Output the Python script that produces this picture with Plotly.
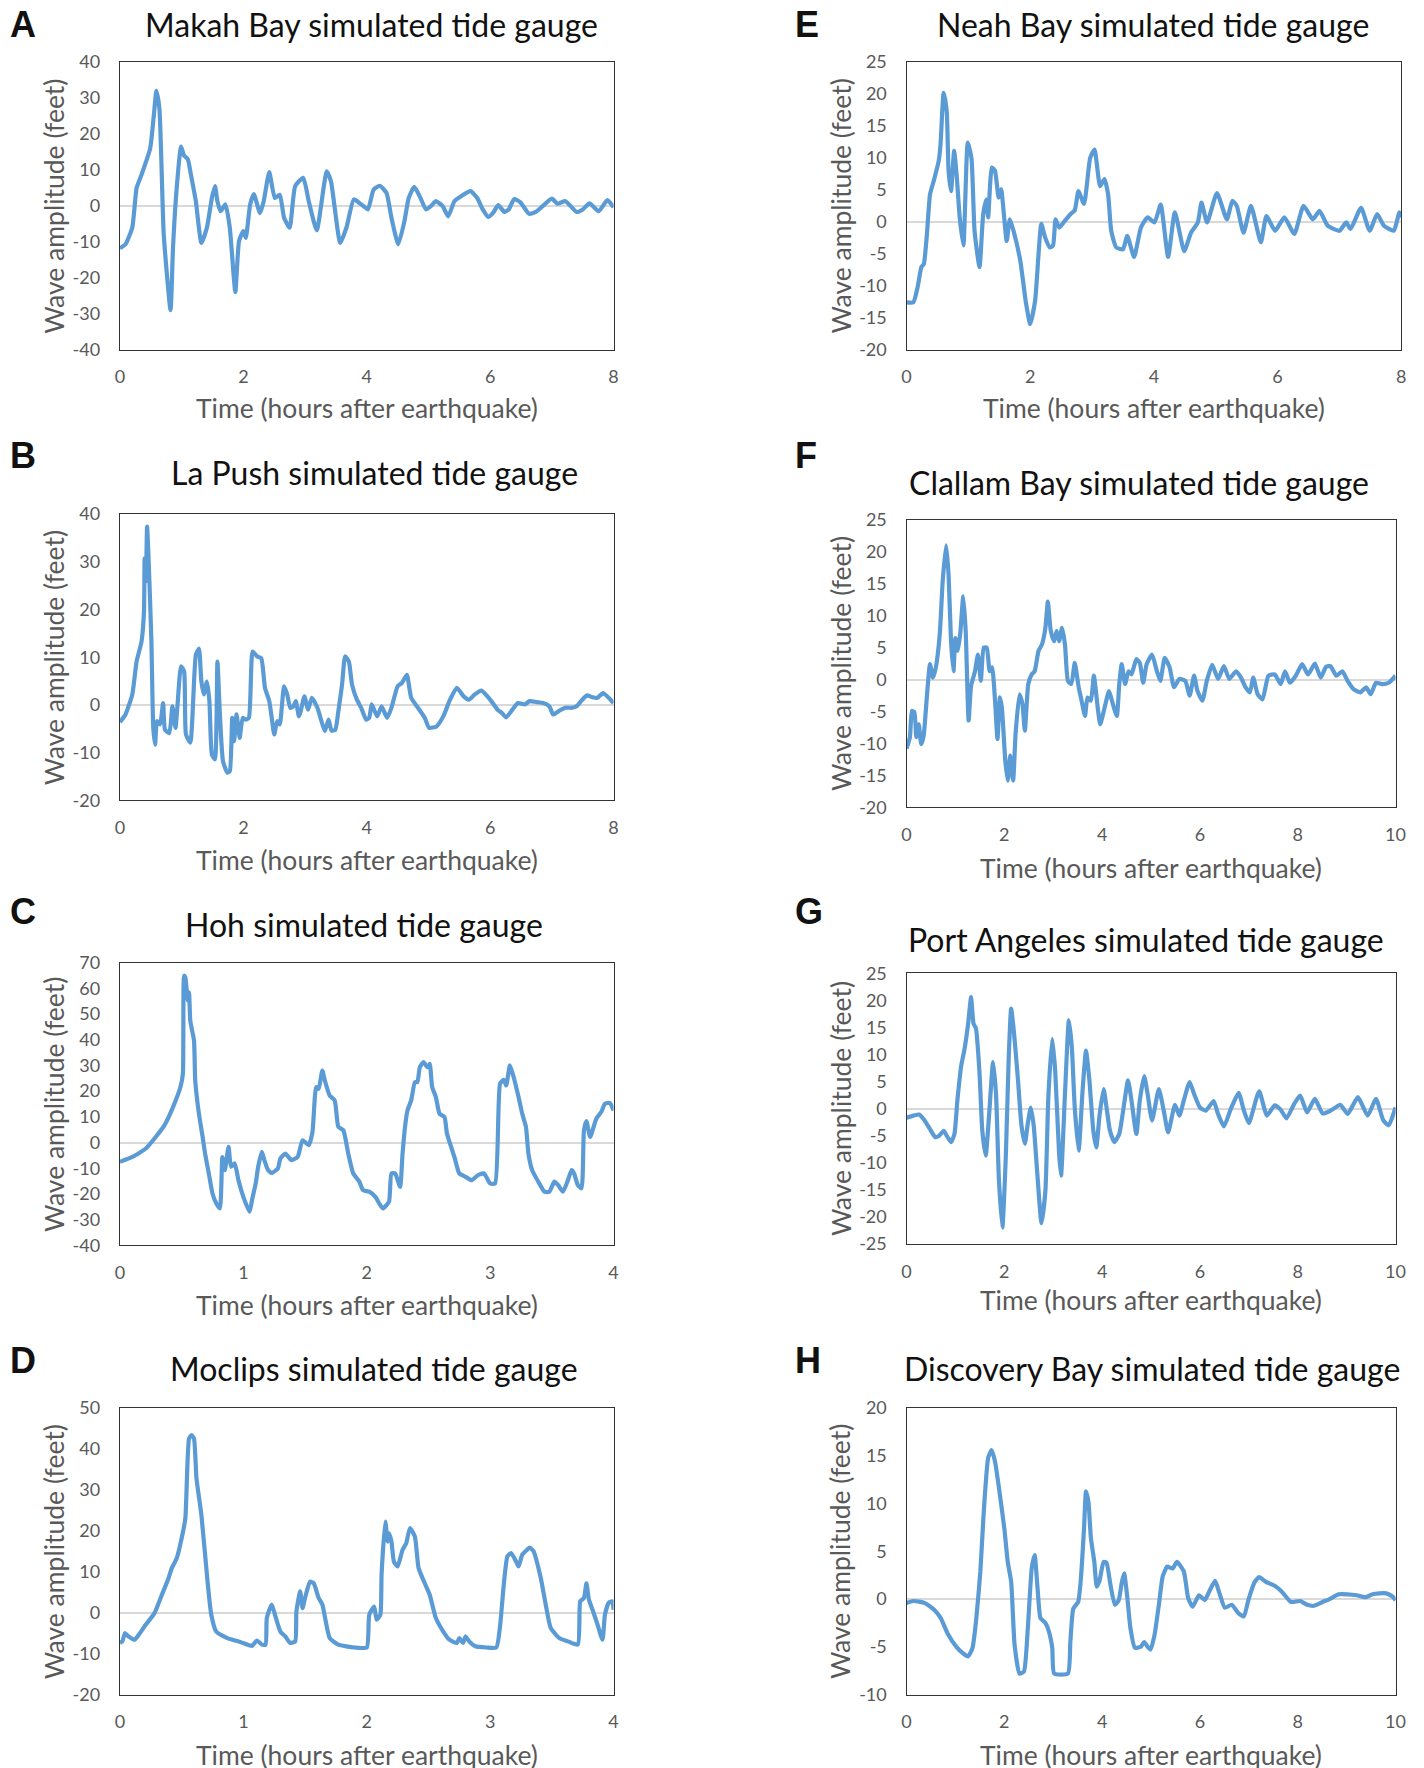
import plotly.graph_objects as go

# ---------------- data ----------------
makah_t = [0,0.09,0.2,0.27,0.35,0.49,0.57,0.59,0.64,0.71,0.82,0.86,0.92,0.99,1.04,1.10,1.15,1.23,1.32,1.41,1.49,1.54,1.58,1.63,1.71,1.78,1.87,1.93,2.0,2.04,2.11,2.17,2.27,2.33,2.42,2.51,2.59,2.66,2.75,2.84,2.97,3.06,3.19,3.35,3.42,3.57,3.67,3.79,3.88,3.95,4.02,4.11,4.21,4.32,4.40,4.51,4.61,4.68,4.77,4.87,4.96,5.04,5.12,5.23,5.32,5.42,5.53,5.68,5.79,5.88,5.97,6.05,6.13,6.23,6.30,6.39,6.49,6.63,6.74,6.85,7.0,7.09,7.22,7.40,7.50,7.61,7.76,7.90,8.0]
makah_y = [-11.8,-10.7,-6,5,8.7,16,29,32,27,-8,-29,-11.6,5,16.5,14,13,8.7,1.3,-10.3,-6,2.2,5.5,1.3,-1.5,0.4,-6,-24,-9.8,-7,-8.9,0.4,3.3,-2,1.3,9.4,2.2,3.1,-3.3,-6.1,5.5,7.8,1.3,-6.8,9.6,6.8,-10.3,-6.1,1.8,0.8,-0.1,-1,4.5,5.6,3.6,-3.3,-10.7,-4.3,2.2,5.3,2.2,-1,-0.1,1.3,-0.1,-2.9,1.3,2.7,4.1,2.2,-1,-3.1,-1.9,0.2,-1.7,-1,1.9,1,-2.2,-1.7,-0.1,2,0.6,1.3,-1.7,-1,0.7,-1.5,1.6,-0.4]

lapush_t = [0,0.09,0.2,0.27,0.35,0.39,0.40,0.42,0.44,0.47,0.51,0.54,0.57,0.60,0.65,0.70,0.73,0.80,0.85,0.90,0.93,0.99,1.04,1.07,1.14,1.23,1.28,1.32,1.36,1.41,1.45,1.49,1.54,1.58,1.62,1.67,1.74,1.78,1.82,1.85,1.89,1.94,1.99,2.04,2.09,2.15,2.22,2.29,2.35,2.42,2.46,2.50,2.55,2.59,2.66,2.71,2.76,2.81,2.85,2.90,2.93,2.99,3.05,3.11,3.20,3.25,3.32,3.38,3.43,3.49,3.54,3.60,3.65,3.71,3.76,3.84,3.91,3.99,4.04,4.08,4.17,4.24,4.33,4.40,4.50,4.57,4.65,4.72,4.83,4.94,5.01,5.13,5.24,5.35,5.46,5.57,5.66,5.75,5.86,6.0,6.12,6.19,6.26,6.36,6.45,6.56,6.64,6.75,6.86,6.96,7.02,7.11,7.22,7.33,7.40,7.48,7.57,7.66,7.74,7.83,7.92,8.0]
lapush_y = [-3.6,-2,2.2,9.1,13.3,19.6,30.7,25.9,37.4,28.6,13.3,-4.8,-8.3,-3.4,-4.1,0.4,-5.2,-5.9,-0.3,-4.8,-0.6,8.1,7,-6.2,-7.9,10.5,11.8,4.9,2.2,4.9,0.8,-10.4,-11.4,9.1,-2,-11.8,-14.2,-13.9,-2.7,-7.6,-2,-6.9,-2.7,-3.1,-2.7,11.2,10.2,9.8,3.6,0.8,-2.7,-6.2,-3.4,-4.1,3.9,2.2,-0.6,-0.3,0.8,-2.4,-1.3,1.8,-1,1.5,-0.6,-2.7,-5.5,-3.1,-5.4,-5.2,-1.3,4.3,10.2,9.1,4.3,1.1,-0.6,-3.1,-2.7,0.1,-2.4,-0.3,-2.7,-0.6,3.9,4.6,6.3,1.5,-0.6,-2.7,-4.8,-4.5,-2.4,1.1,3.6,1.8,1.1,2.2,3,1.1,-1,-1.7,-2.6,-1,0.4,0.1,0.8,0.6,0.4,-0.3,-2,-1.3,-0.6,-0.6,-0.3,0.9,2,1.6,1.5,2.5,1.5,0.4]

hoh_t = [0,0.1,0.21,0.28,0.36,0.43,0.49,0.51,0.52,0.53,0.55,0.56,0.57,0.60,0.61,0.64,0.67,0.69,0.72,0.75,0.78,0.81,0.83,0.85,0.88,0.90,0.93,0.96,1.0,1.05,1.07,1.10,1.12,1.15,1.17,1.20,1.23,1.28,1.30,1.34,1.39,1.44,1.48,1.53,1.56,1.59,1.61,1.64,1.66,1.70,1.74,1.77,1.81,1.85,1.89,1.94,1.97,2.02,2.07,2.10,2.13,2.18,2.20,2.23,2.27,2.29,2.31,2.33,2.36,2.39,2.41,2.43,2.46,2.49,2.51,2.53,2.56,2.59,2.63,2.65,2.71,2.75,2.80,2.85,2.90,2.95,3.0,3.04,3.08,3.11,3.13,3.16,3.19,3.23,3.26,3.29,3.31,3.34,3.39,3.44,3.48,3.52,3.55,3.59,3.63,3.66,3.68,3.71,3.74,3.76,3.78,3.81,3.86,3.90,3.93,3.97,4.0]
hoh_y = [-7.5,-5.6,-2.3,1.6,6.7,13.8,21.6,26.7,64.9,64.2,55.2,58.4,47.4,39.7,24.2,11.2,2.2,-4.3,-12,-19.8,-23.6,-25.6,-5.6,-10.7,-1.7,-9.4,-8.1,-14.6,-21.1,-26.9,-22.4,-15.9,-9.4,-3.6,-6.8,-10.7,-11.8,-10.1,-6.2,-4.3,-6.8,-5.6,0.9,-1,4.1,21.6,20.9,28,24.2,18.3,16.4,6.1,4.8,-4.3,-12,-15.2,-18.5,-19.1,-21.1,-23.6,-25.6,-23,-12,-12,-17.2,-4.3,6.1,12.5,16.4,23.5,23.5,29.3,31.3,29.3,30.6,21.6,17.7,11.2,9.9,3.5,-5.6,-12,-13.3,-14.6,-12.7,-12,-15.9,-15.9,22.9,24.4,22.2,30,25.5,17.7,11.2,6.1,-4.3,-10.7,-15.2,-19.1,-19.1,-15.2,-16.5,-19.1,-14.6,-10.7,-12,-16.5,-17.8,4.8,8.4,2.2,9.3,11.9,15.1,15.4,12.5]

moclips_t = [0,0.02,0.04,0.07,0.12,0.15,0.21,0.28,0.34,0.39,0.42,0.46,0.50,0.53,0.56,0.58,0.60,0.62,0.66,0.71,0.74,0.78,0.87,0.98,1.07,1.11,1.15,1.18,1.19,1.23,1.26,1.30,1.34,1.38,1.42,1.43,1.46,1.48,1.50,1.54,1.57,1.61,1.64,1.70,1.77,1.90,2.0,2.02,2.06,2.08,2.11,2.12,2.15,2.17,2.18,2.20,2.22,2.25,2.29,2.32,2.35,2.39,2.42,2.47,2.51,2.56,2.62,2.67,2.73,2.75,2.78,2.80,2.83,2.88,2.97,3.05,3.08,3.11,3.14,3.17,3.21,3.23,3.26,3.30,3.32,3.35,3.41,3.45,3.49,3.56,3.63,3.71,3.73,3.76,3.78,3.80,3.83,3.87,3.91,3.93,3.96,3.99,4.0]
moclips_y = [-7.4,-7,-5,-5.8,-6.6,-5.5,-2.9,-0.1,4.4,8.1,10.9,13.3,18.2,23.1,42.6,43.4,42.6,32.9,23.9,7.6,-0.5,-4.6,-6.2,-7.2,-8.1,-6.8,-7.8,-7.8,-1.3,2,-0.9,-4.6,-5.8,-7.4,-7,0.3,5.2,1.1,3.6,7.6,7.2,3.6,2,-6.2,-7.8,-8.5,-8.5,-0.5,1.5,-1.7,-0.5,9.3,22.3,17.4,19.4,17.4,12.5,11.3,15.4,17,20.7,18.6,10.9,7.2,4.4,-1.3,-4.6,-6.6,-7.4,-6.2,-7.4,-5.8,-7,-8.2,-8.5,-8.5,-3.3,6.8,13.8,14.6,12.5,11.3,14.2,15.4,15.9,15.1,8.5,2,-3.7,-6.2,-7,-7.8,2.8,3.6,7.2,3.2,0.7,-2.9,-6.6,-0.5,2.4,2.8,0.7]

neah_t = [0,0.11,0.18,0.24,0.28,0.33,0.38,0.44,0.52,0.55,0.60,0.65,0.68,0.72,0.77,0.81,0.86,0.92,0.99,1.05,1.10,1.18,1.24,1.29,1.32,1.38,1.43,1.49,1.53,1.62,1.67,1.73,1.84,1.93,2.0,2.08,2.18,2.24,2.32,2.37,2.41,2.47,2.54,2.65,2.72,2.78,2.87,2.97,3.04,3.13,3.20,3.26,3.31,3.39,3.50,3.57,3.68,3.79,3.90,4.01,4.11,4.23,4.34,4.49,4.60,4.71,4.77,4.86,5.02,5.18,5.27,5.34,5.45,5.57,5.73,5.82,5.96,6.11,6.27,6.42,6.57,6.68,6.81,7.0,7.11,7.18,7.35,7.49,7.61,7.72,7.88,7.97,8.0]
neah_y = [-12.6,-12.6,-10.2,-7.1,-6.6,-1.9,4.3,6.4,9.5,12.1,20.2,17.3,8,4.8,11.1,7.4,0.7,-3.7,12.4,10,-1.4,-7.1,1.2,3.5,0.7,8.5,8,3.8,5.1,-3,0.4,-1.4,-6.1,-12.6,-16,-12.3,-0.3,-2.4,-4,-3.7,0.4,-0.9,-0.1,1.2,1.8,4.8,2.8,10,11.3,5.6,6.7,4.3,-1.4,-4,-4.3,-2.2,-5.5,-0.9,0.7,-0.1,2.7,-5.5,1.5,-4.6,-1.7,-0.1,3,-0.1,4.5,0.4,3.3,2.5,-1.7,2.5,-3.2,0.9,-1.4,0.7,-1.9,2.5,0.4,1.7,-0.6,-1.4,-0.1,-1.1,2.2,-1.4,1.2,-0.6,-1.4,1.5,0.7]

clallam_t = [0,0.07,0.11,0.16,0.2,0.25,0.3,0.35,0.42,0.48,0.54,0.60,0.68,0.74,0.81,0.86,0.91,0.96,1.0,1.05,1.10,1.16,1.21,1.27,1.32,1.40,1.46,1.52,1.58,1.64,1.70,1.75,1.81,1.86,1.91,1.95,2.02,2.07,2.12,2.18,2.23,2.31,2.37,2.42,2.49,2.56,2.62,2.70,2.77,2.84,2.89,2.95,3.02,3.07,3.12,3.18,3.24,3.30,3.37,3.44,3.52,3.58,3.65,3.70,3.77,3.83,3.91,3.96,4.05,4.14,4.20,4.30,4.35,4.40,4.47,4.54,4.60,4.70,4.77,4.84,4.91,5.02,5.12,5.19,5.28,5.38,5.47,5.58,5.70,5.79,5.88,5.95,6.05,6.14,6.25,6.37,6.49,6.60,6.74,6.84,6.93,7.02,7.09,7.18,7.28,7.40,7.53,7.65,7.74,7.84,7.96,8.09,8.21,8.35,8.47,8.58,8.67,8.79,8.91,9.02,9.14,9.28,9.40,9.49,9.60,9.72,9.86,10.0]
clallam_y = [-10.8,-9,-4.9,-5.1,-9,-7,-10.1,-8.8,-2.3,2.4,0.3,1.9,7.1,15.4,21,16.4,6,1.3,6.5,4.5,7.3,13,7.6,-6.4,-1,1.3,3.9,-0.2,5,5,1.3,1.9,-3.3,-9.3,-2.8,-4.4,-12.7,-15.8,-11.9,-15.8,-8.5,-2.3,-3.8,-8,-0.7,0.8,1.3,4.5,5.5,8.1,12.2,7.6,6,7.6,6,8.1,5.5,-0.2,-0.7,2.6,-1.2,-3.3,-5.7,-2.8,-3.3,0.6,-4.4,-7,-4.4,-1.8,-3.3,-5.7,-0.7,2.4,-0.7,1.3,0.8,3.2,2.6,-0.5,2.4,3.9,1.3,-0.2,3.4,1.9,-1.2,0.1,-0.2,-2.5,0.6,-1.8,-3.3,-0.2,2.3,0.1,2.1,0.1,1.3,0.3,-1.2,-2,0.3,-2.3,-3.1,0.6,0.8,-0.7,1.3,-0.5,0.6,2.4,0.8,2.5,0.3,2,2.1,0.6,1.3,-0.2,-1.5,-2,-1.2,-2.3,-0.5,-0.7,-0.5,0.6]

portang_t = [0,0.14,0.26,0.37,0.48,0.59,0.67,0.76,0.82,0.91,0.98,1.04,1.12,1.18,1.26,1.32,1.37,1.42,1.49,1.55,1.62,1.69,1.77,1.83,1.89,1.96,2.03,2.09,2.14,2.20,2.28,2.35,2.42,2.48,2.54,2.60,2.67,2.76,2.84,2.90,2.98,3.04,3.12,3.16,3.24,3.32,3.38,3.44,3.52,3.60,3.67,3.74,3.82,3.88,3.95,4.03,4.09,4.16,4.25,4.35,4.42,4.53,4.60,4.70,4.77,4.86,4.93,5.02,5.16,5.26,5.35,5.49,5.58,5.67,5.79,5.88,6.0,6.12,6.28,6.37,6.49,6.63,6.79,6.90,7.0,7.21,7.37,7.53,7.65,7.77,7.93,8.05,8.19,8.35,8.51,8.67,8.87,9.02,9.23,9.43,9.60,9.75,9.86,10.0]
portang_y = [-1.7,-1.3,-1.1,-2.2,-3.8,-5.3,-5,-4.1,-5,-6.2,-4.7,1.5,8,10.7,15.7,20.6,15.7,14.8,7,-4.1,-8.7,-1,8.6,2.7,-13.3,-22,-9,9.5,18.5,13.8,5.2,-3.1,-6.5,-2.8,0.2,-3.1,-11.5,-21.2,-15.2,2.1,12.9,7,-8.4,-12.4,2.7,16.3,11.4,0.2,-7.8,3.3,10.7,5.2,-4.1,-7.2,-1,3.6,0.2,-4.1,-6.2,-4.7,-1,5.2,1.5,-4.7,1.5,6,2.7,-2.2,3.6,-0.4,-4.4,0.7,-1.3,1.5,4.9,2.7,0.2,-0.4,1.4,-1,-3.3,-0.1,2.9,-0.4,-2.7,3.2,-1.3,0.6,-0.2,-1.8,0.9,2.4,-0.7,1.8,-0.9,-0.4,0.7,-1,2.1,-1.3,1.8,-2.2,-3.1,0.2]

discovery_t = [0,0.14,0.37,0.56,0.70,0.84,1.02,1.16,1.26,1.35,1.42,1.51,1.58,1.67,1.74,1.81,1.91,2.0,2.07,2.14,2.21,2.31,2.40,2.48,2.56,2.62,2.68,2.74,2.84,2.90,2.98,3.02,3.30,3.35,3.41,3.51,3.56,3.63,3.67,3.72,3.77,3.84,3.89,3.95,4.03,4.09,4.17,4.26,4.34,4.40,4.45,4.51,4.58,4.67,4.79,4.86,4.93,4.99,5.07,5.16,5.24,5.33,5.44,5.53,5.67,5.76,5.85,5.98,6.10,6.19,6.31,6.40,6.51,6.65,6.79,6.90,6.99,7.12,7.21,7.35,7.53,7.67,7.86,8.05,8.19,8.33,8.51,8.65,8.84,9.02,9.21,9.38,9.53,9.67,9.81,9.93,10.0]
discovery_y = [-0.4,-0.2,-0.4,-1.1,-2,-3.6,-5,-5.7,-6,-5.1,-2.4,2.9,9.2,14.8,15.6,14.4,10.9,7.4,3.9,1.8,-4.8,-7.8,-7.6,-3.1,3.2,4.6,1.1,-2,-2.5,-3.2,-5.1,-7.8,-7.8,-4.5,-1,-0.3,1.8,7.4,11.3,10.2,6.4,3.9,1.3,2,3.9,3.8,1.5,-0.6,-0.1,1.7,2.7,0.4,-3.1,-5.1,-5,-4.5,-5,-5.3,-3.8,-0.6,2.4,3.4,3.2,3.9,2.9,0.1,-0.8,0.4,-0.1,0.8,1.9,0.6,-0.9,-0.6,-1.5,-1.8,-0.1,1.8,2.3,1.8,1.4,0.8,-0.3,-0.2,-0.6,-0.7,-0.3,0,0.5,0.5,0.4,0.2,0.5,0.6,0.6,0.3,-0.1]

# target positions in picture pixels (1424x1768):
# letter, title, t, y, y-range, y-step, x-range, x-step, plot box (l, r, top, bottom),
# title centre, letter position, x-title offset below plot
panels = [
    ("A", "Makah Bay simulated tide gauge", makah_t, makah_y, [-40, 40], 10, [0, 8], 2, (119.5, 613.4, 60.9, 348.4), (371, 23), (7, 23), 58.5),
    ("B", "La Push simulated tide gauge", lapush_t, lapush_y, [-20, 40], 10, [0, 8], 2, (119.5, 613.4, 513.0, 799.4), (374, 471), (7, 454), 60),
    ("C", "Hoh simulated tide gauge", hoh_t, hoh_y, [-40, 70], 10, [0, 4], 1, (119.5, 613.4, 961.7, 1244.7), (364, 924), (7, 911), 60),
    ("D", "Moclips simulated tide gauge", moclips_t, moclips_y, [-20, 50], 10, [0, 4], 1, (119.5, 613.4, 1407.5, 1694.0), (374, 1368), (7, 1360), 60),
    ("E", "Neah Bay simulated tide gauge", neah_t, neah_y, [-20, 25], 5, [0, 8], 2, (906.5, 1401.5, 60.9, 348.4), (1153, 23), (793, 23), 58.5),
    ("F", "Clallam Bay simulated tide gauge", clallam_t, clallam_y, [-20, 25], 5, [0, 10], 2, (906.5, 1395.8, 518.6, 806.5), (1139, 481), (793, 454), 61),
    ("G", "Port Angeles simulated tide gauge", portang_t, portang_y, [-25, 25], 5, [0, 10], 2, (906.5, 1395.8, 972.5, 1243.0), (1146, 939), (793, 911), 56.5),
    ("H", "Discovery Bay simulated tide gauge", discovery_t, discovery_y, [-10, 20], 5, [0, 10], 2, (906.5, 1395.8, 1407.5, 1694.0), (1152, 1368), (793, 1360), 60),
]

W, H = 1424, 1768
# measured mapping figure -> photographed picture: pic = O + S * fig
OX, OY, SX, SY = 12.5, 18.7, 0.990, 0.988
BLUE = "#5B9BD5"
GREY = "#595959"
FONT = "Lato"

def px(x):
    return ((x - OX) / SX) / W

def py(y):
    return 1 - ((y - OY) / SY) / H

def tick_list(lo, hi, step):
    vals = list(range(lo, hi + 1, step))
    return vals, [str(v) for v in vals]

fig = go.Figure()
layout = dict(
    width=W, height=H, margin=dict(l=0, r=0, t=0, b=0, pad=0), autosize=False,
    paper_bgcolor="white", plot_bgcolor="white", showlegend=False,
    font=dict(family=FONT, color=GREY),
)
annotations = []

for i, (letter, title, t, y, yr, ydt, xr, xdt, box, tc, lp, xto) in enumerate(panels):
    n = "" if i == 0 else str(i + 1)
    l, r, tp, bt = box
    fig.add_trace(go.Scatter(
        x=t, y=y, mode="lines", xaxis="x" + n, yaxis="y" + n,
        line=dict(color=BLUE, width=4.2, shape="spline", smoothing=0.5),
        hoverinfo="skip",
    ))
    xv, xt = tick_list(xr[0], xr[1], xdt)
    yv, yt = tick_list(yr[0], yr[1], ydt)
    layout["xaxis" + n] = dict(
        domain=[px(l), px(r)], anchor="y" + n, range=xr,
        tickmode="array", tickvals=xv, ticktext=xt,
        showgrid=False, zeroline=False, showline=True, mirror=True,
        linecolor="#333333", linewidth=1.3, ticks="",
        tickfont=dict(family=FONT, size=18, color=GREY), ticklabelstandoff=11,
    )
    layout["yaxis" + n] = dict(
        domain=[py(bt), py(tp)], anchor="x" + n, range=yr,
        tickmode="array", tickvals=yv, ticktext=yt,
        showgrid=False, zeroline=True, zerolinecolor="#d9d9d9", zerolinewidth=1.5,
        showline=True, mirror=True, linecolor="#333333", linewidth=1.3, ticks="",
        tickfont=dict(family=FONT, size=18, color=GREY), ticklabelstandoff=15,
    )
    annotations.append(dict(
        x=px(tc[0]), y=py(tc[1]), xref="paper", yref="paper", text=title,
        showarrow=False, xanchor="center", yanchor="middle",
        font=dict(family=FONT, size=32, color="#111111"),
    ))
    annotations.append(dict(
        x=px(lp[0]), y=py(lp[1]), xref="paper", yref="paper", text="<b>" + letter + "</b>",
        showarrow=False, xanchor="left", yanchor="middle",
        font=dict(family="Liberation Sans", size=36, color="#111111"),
    ))
    annotations.append(dict(
        x=px((l + r) / 2), y=py(bt + xto), xref="paper", yref="paper",
        text="Time (hours after earthquake)", showarrow=False,
        xanchor="center", yanchor="middle",
        font=dict(family=FONT, size=26.5, color=GREY),
    ))
    annotations.append(dict(
        x=px(l - 66), y=py((tp + bt) / 2), xref="paper", yref="paper",
        text="Wave amplitude (feet)", showarrow=False, textangle=-90,
        xanchor="center", yanchor="middle",
        font=dict(family=FONT, size=26.5, color=GREY),
    ))

layout["annotations"] = annotations
fig.update_layout(**layout)
fig.write_html("out.html")
